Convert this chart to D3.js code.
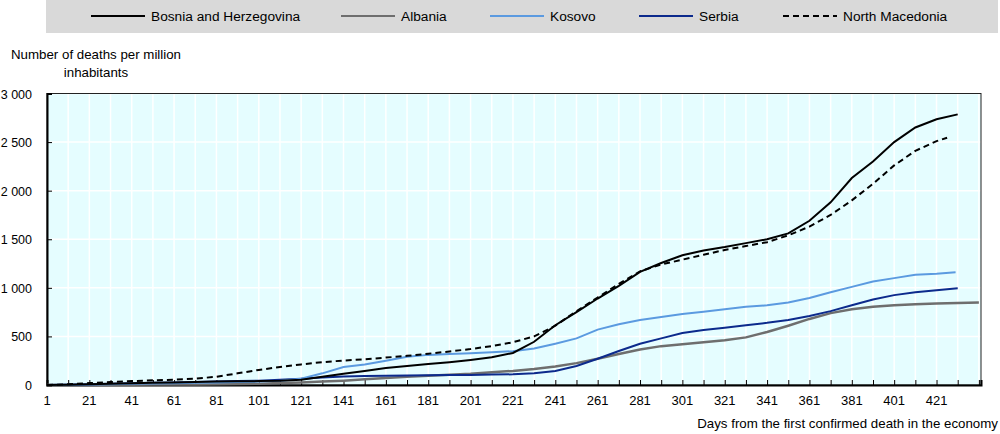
<!DOCTYPE html>
<html>
<head>
<meta charset="utf-8">
<script src="https://cdn.jsdelivr.net/npm/d3@7"></script>
<style>
  body { margin: 0; background: #fff; }
  text { font-family: "Liberation Sans", Arial, sans-serif; fill: #000; }
</style>
</head>
<body>
<div id="chart"></div>
<script>
// days from first confirmed death (sampled every 10 days)
const days = d3.range(1, 422, 10);

const seriesNames = ["Bosnia and Herzegovina", "Albania", "Kosovo", "Serbia", "North Macedonia"];
const seriesColors = ["#000000", "#6e6e6e", "#5b9ae0", "#0c2a8c", "#000000"];

const bosnia = [0, 3, 8, 12, 17, 22, 27, 32, 36, 38, 40, 45, 55, 85, 115, 145, 175, 195, 215, 235, 258, 285, 330, 445, 615, 750, 890, 1020, 1165, 1255, 1335, 1385, 1420, 1460, 1500, 1560, 1690, 1880, 2130, 2300, 2500, 2650, 2735];
const albania = [0, 0, 1, 2, 3, 4, 5, 6, 8, 10, 14, 20, 27, 35, 45, 58, 72, 85, 95, 105, 115, 130, 145, 165, 190, 225, 270, 320, 365, 400, 420, 440, 460, 490, 545, 610, 680, 740, 780, 805, 820, 830, 838];
const kosovo = [0, 2, 5, 8, 12, 15, 18, 22, 26, 30, 35, 45, 65, 120, 185, 210, 250, 290, 310, 320, 328, 338, 348, 375, 425, 480, 570, 625, 670, 700, 730, 755, 780, 805, 820, 850, 895, 955, 1010, 1065, 1100, 1135, 1145];
const serbia = [0, 3, 8, 12, 17, 22, 27, 31, 35, 40, 45, 55, 65, 78, 88, 92, 95, 97, 100, 102, 104, 107, 110, 120, 145, 195, 270, 350, 425, 480, 535, 565, 590, 615, 640, 670, 710, 760, 820, 880, 925, 955, 975];
const macedonia = [0, 8, 20, 30, 40, 48, 55, 65, 85, 120, 155, 185, 212, 235, 252, 265, 282, 300, 322, 345, 370, 400, 440, 500, 610, 760, 900, 1040, 1170, 1240, 1290, 1340, 1390, 1430, 1470, 1540, 1630, 1750, 1900, 2070, 2260, 2410, 2510];
// last observation of each series
const tailDays = [431, 441, 430, 431, 426];
const tailValues = [2785, 850, 1160, 995, 2545];

const yTicks = [0, 500, 1000, 1500, 2000, 2500, 3000];
const xTicks = d3.range(1, 422, 20);

const W = 1000, H = 434;
const m = { left: 47, right: 19, top: 93.5, bottom: 49 };

const svg = d3.select("#chart").append("svg").attr("width", W).attr("height", H);

const x = d3.scaleLinear().domain([1, 442]).range([m.left, W - m.right]);
const y = d3.scaleLinear().domain([0, 3000]).range([H - m.bottom, m.top]);

// legend
svg.append("rect").attr("x", 46).attr("y", 0).attr("width", 952).attr("height", 33).attr("fill", "#d9d9d9");
const legendX = [91, 341, 490, 639, 783];
seriesNames.forEach((name, i) => {
  const g = svg.append("g").attr("transform", `translate(${legendX[i]},16)`);
  g.append("line").attr("x1", 0).attr("x2", 54).attr("stroke", seriesColors[i]).attr("stroke-width", 2)
    .attr("stroke-dasharray", i === 4 ? "6,4" : null);
  g.append("text").attr("x", 60).attr("y", 5).attr("font-size", 13.7).text(name);
});

// plot background
svg.append("rect").attr("x", x(1)).attr("y", y(3000)).attr("width", x(442) - x(1)).attr("height", y(0) - y(3000))
  .attr("fill", "#e5fdff");

// grid
svg.append("g").selectAll("line").data(d3.range(11, 442, 10)).join("line")
  .attr("x1", d => x(d)).attr("x2", d => x(d)).attr("y1", y(0)).attr("y2", y(3000))
  .attr("stroke", "#fff").attr("stroke-width", 1.5);
svg.append("g").selectAll("line").data(yTicks.slice(1)).join("line")
  .attr("x1", x(1)).attr("x2", x(442)).attr("y1", d => y(d)).attr("y2", d => y(d))
  .attr("stroke", "#fff").attr("stroke-width", 1.5);

// frame
svg.append("rect").attr("x", x(1)).attr("y", y(3000)).attr("width", x(442) - x(1)).attr("height", y(0) - y(3000))
  .attr("fill", "none").attr("stroke", "#222").attr("stroke-width", 1);

// axes
const xAxis = svg.append("g").attr("transform", `translate(0,${y(0)})`)
  .call(d3.axisBottom(x).tickValues(d3.range(1, 442, 10)).tickSize(-5).tickFormat(""));
xAxis.select(".domain").attr("stroke", "#000").attr("stroke-width", 2);
xAxis.selectAll(".tick line").attr("stroke", "#000");

svg.append("g").selectAll("text").data(xTicks).join("text")
  .attr("x", d => x(d)).attr("y", y(0) + 19.5).attr("text-anchor", "middle").attr("font-size", 13).text(d => d);

const yAxis = svg.append("g").attr("transform", `translate(${x(1)},0)`)
  .call(d3.axisLeft(y).tickValues(yTicks).tickSize(-5).tickFormat(""));
yAxis.select(".domain").attr("stroke", "#000").attr("stroke-width", 2);
yAxis.selectAll(".tick line").attr("stroke", "#000");

const fmt = d => d >= 1000 ? d3.format(",")(d).replace(",", " ") : String(d);
svg.append("g").selectAll("text").data(yTicks).join("text")
  .attr("x", 32).attr("y", d => y(d) + 5).attr("text-anchor", "end").attr("font-size", 12.5).text(fmt);

// titles
svg.append("text").attr("x", 96).attr("y", 59).attr("text-anchor", "middle").attr("font-size", 13.3).text("Number of deaths per million");
svg.append("text").attr("x", 96).attr("y", 77).attr("text-anchor", "middle").attr("font-size", 13.3).text("inhabitants");
svg.append("text").attr("x", 998).attr("y", 428).attr("text-anchor", "end").attr("font-size", 13.3).text("Days from the first confirmed death in the economy");

// lines
const line = d3.line().x(d => x(d[0])).y(d => y(d[1]));
const allValues = [bosnia, albania, kosovo, serbia, macedonia];
const drawOrder = [1, 3, 2, 0, 4];
drawOrder.forEach(i => {
  const pts = days.map((d, j) => [d, allValues[i][j]]);
  pts.push([tailDays[i], tailValues[i]]);
  svg.append("path").datum(pts).attr("d", line).attr("fill", "none")
    .attr("stroke", seriesColors[i]).attr("stroke-width", i === 1 ? 2.5 : 2)
    .attr("stroke-dasharray", i === 4 ? "6,4" : null);
});
</script>
</body>
</html>
